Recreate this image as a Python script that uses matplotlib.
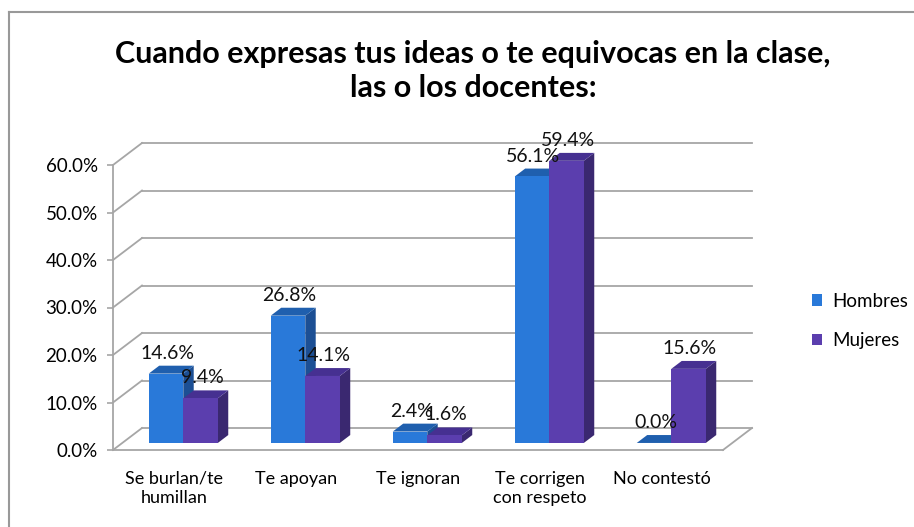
import matplotlib
matplotlib.use("Agg")
import matplotlib.pyplot as plt
from matplotlib.patches import Polygon, Patch
from matplotlib.lines import Line2D

categories = ["Se burlan/te\nhumillan", "Te apoyan", "Te ignoran", "Te corrigen\ncon respeto", "No contestó"]
hombres = [14.6, 26.8, 2.4, 56.1, 0.0]
mujeres = [9.4, 14.1, 1.6, 59.4, 15.6]
series_names = ["Hombres", "Mujeres"]
yticks = [0, 10, 20, 30, 40, 50, 60]
title = "Cuando expresas tus ideas o te equivocas en la clase,\nlas o los docentes:"

FONT = "Lato"
plt.rcParams['font.family'] = [FONT, 'DejaVu Sans']

W_PX, H_PX = 914, 527
fig = plt.figure(figsize=(W_PX / 100, H_PX / 100), dpi=100)

# axes geometry (pixels)
ax_left_px, ax_right_px = 113, 113 + 5.26 * 122
floor_px, top_px = 450, 450 - 66 * 4.75
ax = fig.add_axes([ax_left_px / W_PX, (H_PX - floor_px) / H_PX,
                   (ax_right_px - ax_left_px) / W_PX, (floor_px - top_px) / H_PX])
ax.set_xlim(-0.5, 4.76)
ax.set_ylim(0, 66)

DX = 29 / 122.0   # depth offset in x data units
DY = 22 / 4.75    # depth offset in y data units

grid_c = "#a6a6a6"
lw = 1.3
for y in yticks:
    ax.add_line(Line2D([-0.5 + DX, 4.5 + DX], [y + DY, y + DY], color=grid_c, lw=lw, clip_on=False, zorder=1))
    ax.add_line(Line2D([-0.5, -0.5 + DX], [y, y + DY], color=grid_c, lw=lw, clip_on=False, zorder=1))
ax.add_line(Line2D([-0.5, -0.5], [0, 60], color=grid_c, lw=lw, clip_on=False, zorder=1))
ax.add_line(Line2D([-0.5, 4.5], [0, 0], color=grid_c, lw=lw, clip_on=False, zorder=1))
ax.add_line(Line2D([4.5, 4.5 + DX], [0, DY], color=grid_c, lw=lw, clip_on=False, zorder=1))

colors = [
    {"front": "#2979d9", "top": "#1f5fae", "side": "#1c4f94"},
    {"front": "#5b3eae", "top": "#463091", "side": "#3a2870"},
]
W = 0.283
d0, dd = 0.32, 0.36
for i in range(len(categories)):
    for s, vals in enumerate([hombres, mujeres]):
        v = vals[i]
        c = colors[s]
        x0 = i - W + s * W + d0 * DX
        b = d0 * DY
        z = 3 + i * 2 + s * 0.5
        side = Polygon([(x0 + W, b), (x0 + W, v + b), (x0 + W + dd * DX, v + b + dd * DY),
                        (x0 + W + dd * DX, b + dd * DY)], closed=True, fc=c["side"], ec="none", zorder=z)
        top = Polygon([(x0, v + b), (x0 + W, v + b), (x0 + W + dd * DX, v + b + dd * DY),
                       (x0 + dd * DX, v + b + dd * DY)], closed=True, fc=c["top"], ec="none", zorder=z)
        ax.add_patch(side)
        ax.add_patch(top)
        ax.bar(x0, v, width=W, bottom=b, align="edge", color=c["front"], zorder=z + 0.1, linewidth=0)
        ax.annotate(f"{v:.1f}%", (x0 + W / 2, v + b + dd * DY), xytext=(1, 9), textcoords="offset points",
                    ha="center", va="center", fontsize=14, color="#111111", zorder=20)

for sp in ax.spines.values():
    sp.set_visible(False)
ax.set_yticks(yticks)
ax.set_yticklabels([f"{t:.1f}%" for t in yticks], fontsize=13.5)
ax.tick_params(axis="y", length=4, width=1.2, color=grid_c, pad=7)
ax.set_xticks(range(len(categories)))
ax.set_xticklabels(categories, fontsize=13, linespacing=1.25)
ax.tick_params(axis="x", length=0, pad=15)
ax.patch.set_visible(False)

fig.text(473 / W_PX, 1 - 71 / H_PX, title, ha="center", va="center", fontsize=22,
         fontweight="bold", linespacing=1.25)

handles = [Patch(fc=colors[0]["front"], ec="none"), Patch(fc=colors[1]["front"], ec="none")]
fig.legend(handles, series_names, loc="center left", bbox_to_anchor=(795 / W_PX, 1 - 321 / H_PX),
           frameon=False, fontsize=13.5, handlelength=0.55, handleheight=0.55, handletextpad=0.55,
           labelspacing=1.2)

# chart frame (only top and left edges fall inside the picture)
fig.add_artist(Line2D([9 / W_PX, 1.0], [1 - 12 / H_PX, 1 - 12 / H_PX], transform=fig.transFigure,
                      color="#999999", lw=1.5))
fig.add_artist(Line2D([9 / W_PX, 9 / W_PX], [0.0, 1 - 12 / H_PX], transform=fig.transFigure,
                      color="#999999", lw=1.5))

fig.savefig("out.png", dpi=100)
